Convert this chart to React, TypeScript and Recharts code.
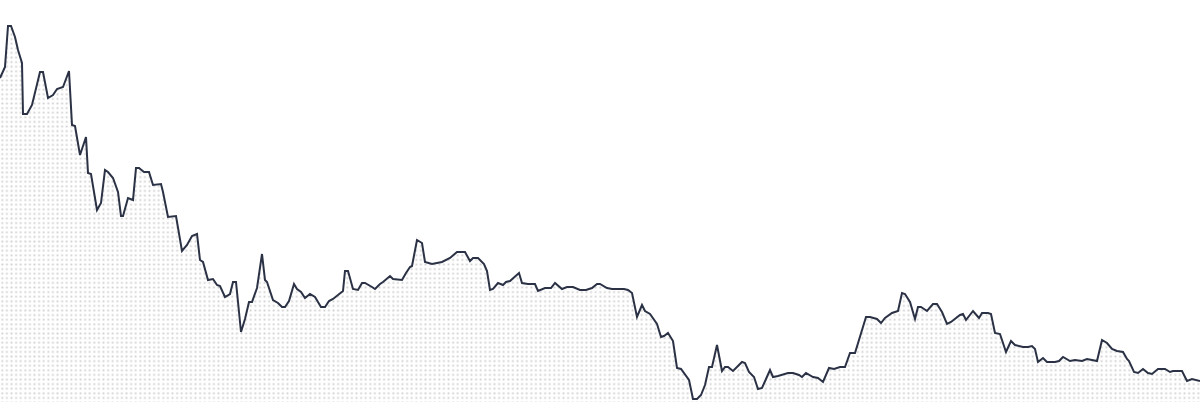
import React from "react";
import { AreaChart, Area, XAxis, YAxis } from "recharts";

const days: number[] = [
  0, 5, 8, 11, 15, 18, 22, 23, 27, 32,
  40, 43, 48, 53, 57, 63, 69, 72, 75, 80,
  86, 88, 91, 97, 101, 105, 108, 113, 118, 121,
  123, 128, 133, 136, 139, 144, 149, 153, 161, 163,
  168, 176, 182, 187, 192, 197, 200, 203, 208, 213,
  217, 220, 225, 230, 233, 236, 241, 245, 249, 252,
  257, 262, 265, 267, 273, 278, 282, 285, 289, 294,
  297, 301, 305, 310, 315, 321, 325, 329, 333, 343,
  345, 348, 353, 358, 362, 365, 372, 375, 380, 383,
  390, 393, 402, 406, 410, 412, 417, 422, 425, 432,
  442, 450, 457, 465, 470, 473, 478, 484, 487, 490,
  493, 498, 503, 506, 510, 519, 522, 528, 535, 538,
  545, 551, 555, 562, 567, 573, 580, 586, 592, 597,
  600, 607, 612, 624, 628, 632, 637, 642, 645, 650,
  657, 661, 664, 668, 673, 677, 681, 689, 693, 697,
  701, 705, 709, 712, 717, 722, 725, 728, 733, 742,
  745, 749, 754, 758, 762, 766, 770, 773, 778, 788,
  793, 799, 802, 806, 813, 818, 823, 829, 834, 840,
  845, 850, 855, 866, 870, 877, 881, 885, 892, 898,
  902, 905, 910, 915, 918, 921, 927, 933, 937, 942,
  947, 951, 960, 963, 966, 973, 979, 982, 988, 991,
  995, 1000, 1006, 1011, 1015, 1023, 1028, 1032, 1035, 1038,
  1043, 1047, 1055, 1059, 1063, 1070, 1075, 1082, 1087, 1092,
  1097, 1102, 1107, 1112, 1117, 1123, 1127, 1129, 1134, 1138,
  1143, 1148, 1152, 1158, 1165, 1170, 1173, 1182, 1187, 1192,
  1200,
];

const prices: number[] = [
  324, 335, 376, 376, 365, 352, 339, 288, 288, 297,
  330, 330, 304, 307, 313, 315, 331, 277, 276, 247,
  265, 229, 228, 192, 199, 232, 230, 224, 210, 186,
  186, 204, 202, 234, 234, 230, 230, 217, 218, 210,
  185, 186, 151, 157, 166, 168, 142, 140, 122, 123,
  117, 116, 105, 108, 120, 120, 70, 83, 100, 100,
  114, 148, 122, 120, 102, 99, 95, 95, 101, 118,
  113, 110, 104, 108, 105, 95, 95, 101, 103, 111,
  131, 131, 113, 112, 119, 119, 115, 113, 118, 120,
  126, 123, 122, 129, 135, 136, 162, 159, 140, 138,
  140, 144, 150, 150, 141, 144, 144, 138, 131, 112,
  113, 119, 117, 120, 121, 129, 119, 118, 118, 111,
  114, 114, 119, 113, 115, 115, 112, 112, 114, 118,
  118, 114, 113, 113, 112, 109, 85, 97, 91, 88,
  78, 65, 66, 69, 61, 34, 33, 22, 3, 3,
  7, 17, 35, 35, 57, 31, 35, 35, 31, 40,
  39, 30, 25, 13, 14, 23, 32, 25, 26, 29,
  29, 27, 25, 29, 25, 24, 20, 34, 33, 35,
  35, 49, 49, 85, 85, 83, 79, 84, 89, 91,
  109, 108, 100, 83, 95, 95, 91, 98, 98, 90,
  78, 80, 87, 88, 82, 91, 84, 89, 89, 88,
  69, 68, 50, 61, 57, 55, 55, 56, 53, 40,
  44, 40, 40, 41, 45, 41, 42, 41, 43, 42,
  41, 62, 59, 53, 51, 50, 43, 41, 30, 29,
  33, 29, 28, 33, 33, 30, 31, 31, 21, 23,
  21,
];

const data = days.map((d, i) => ({ day: d, price: prices[i] }));

export default function App() {
  return (
    <div style={{ position: "absolute", left: 0, top: 0, width: 1200, height: 402, background: "#fff" }}>
      <AreaChart width={1200} height={402} data={data} margin={{ top: 0, right: 0, bottom: 0, left: 0 }}>
        <defs>
          <pattern id="dots" x="0" y="0" width="4.6" height="4.6" patternUnits="userSpaceOnUse">
            <rect x="1.4" y="1.4" width="1.8" height="1.8" fill="#cfcfcf" />
          </pattern>
        </defs>
        <XAxis dataKey="day" type="number" domain={[0, 1200]} hide />
        <YAxis type="number" domain={[0, 402]} hide />
        <Area
          type="linear"
          dataKey="price"
          stroke="#2b3245"
          strokeWidth={2}
          fill="url(#dots)"
          fillOpacity={1}
          isAnimationActive={false}
          dot={false}
          activeDot={false}
        />
      </AreaChart>
    </div>
  );
}
